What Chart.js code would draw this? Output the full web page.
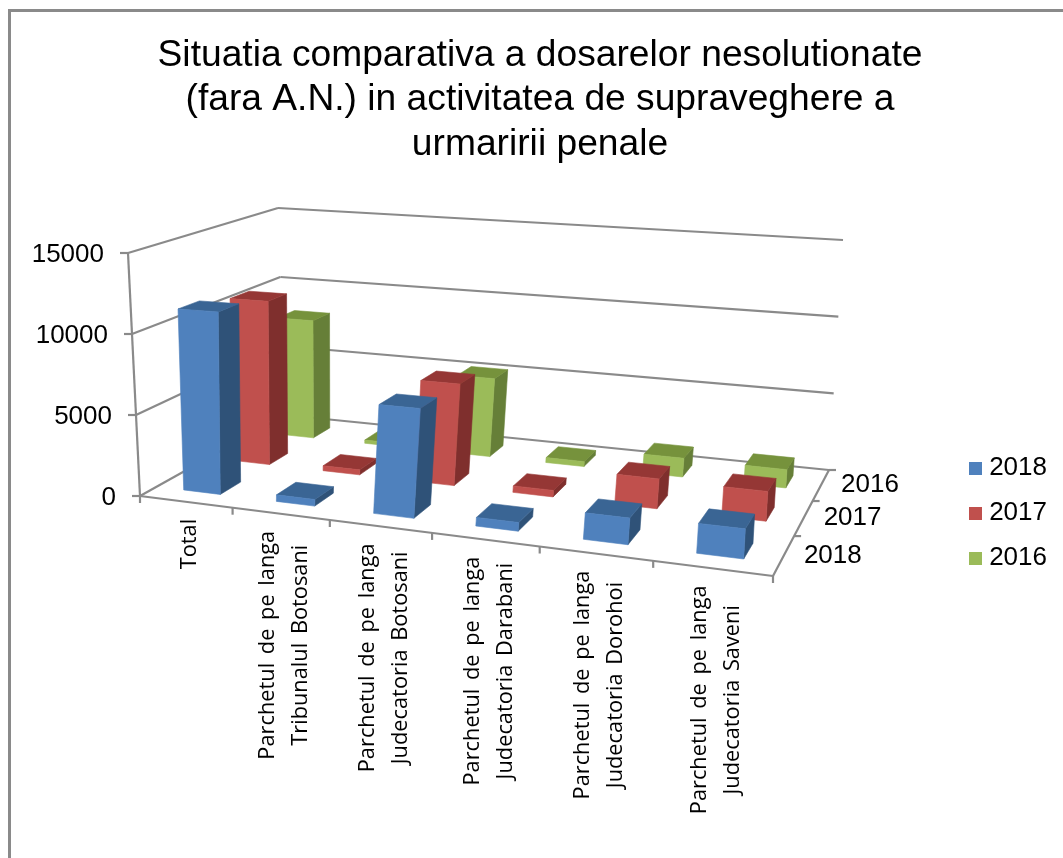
<!DOCTYPE html>
<html>
<head>
<meta charset="utf-8">
<script src="https://cdn.jsdelivr.net/npm/chart.js@4"></script>
<style>
html,body{margin:0;padding:0;background:#fff;overflow:hidden;width:1063px;height:858px}
#frame{position:absolute;left:8px;top:9px;width:1200px;height:1000px;border-left:3px solid #8a8a8a;border-top:3px solid #8a8a8a;box-sizing:border-box}
canvas{position:absolute;left:8px;top:10px}
</style>
</head>
<body>
<div id="frame"></div>
<canvas id="c" width="1064" height="848"></canvas>
<script>
const categories = ["Total",
  ["Parchetul de pe langa","Tribunalul Botosani"],
  ["Parchetul de pe langa","Judecatoria Botosani"],
  ["Parchetul de pe langa","Judecatoria Darabani"],
  ["Parchetul de pe langa","Judecatoria Dorohoi"],
  ["Parchetul de pe langa","Judecatoria Saveni"]];
const seriesNames = ["2018","2017","2016"];
const values2018 = [11300,400,6500,500,1500,1650];
const values2017 = [10700,320,6400,400,1800,1750];
const values2016 = [8100,220,5200,320,1200,1150];
const titleLines = ["Situatia comparativa a dosarelor nesolutionate","(fara A.N.) in activitatea de supraveghere a","urmaririi penale"];
const yTickStep = 5000, yMax = 15000;

const colors = [
  {front:"#4F81BD",side:"#2F5278",top:"#3A6594"},
  {front:"#C0504D",side:"#7F2F2D",top:"#953735"},
  {front:"#9BBB59",side:"#667F38",top:"#76923C"}
];
const axisColor = "#8a8a8a";
const ORG = {x:8,y:10};

// view projection of the 3D box (corner anchors, page pixels)
function homography(p0,p1,p2,p3){
  const sx=p0[0]-p1[0]+p2[0]-p3[0], sy=p0[1]-p1[1]+p2[1]-p3[1];
  const dx1=p1[0]-p2[0], dx2=p3[0]-p2[0], dy1=p1[1]-p2[1], dy2=p3[1]-p2[1];
  const den=dx1*dy2-dx2*dy1;
  const g=(sx*dy2-dx2*sy)/den, h=(dx1*sy-sx*dy1)/den;
  const a=p1[0]-p0[0]+g*p1[0], b=p3[0]-p0[0]+h*p3[0], c=p0[0];
  const d=p1[1]-p0[1]+g*p1[1], e=p3[1]-p0[1]+h*p3[1], f=p0[1];
  return (u,w)=>{const q=g*u+h*w+1;return [(a*u+b*w+c)/q,(d*u+e*w+f)/q];};
}
const floorH = homography([140,496],[773,576],[829,470],[285,415]);
const ceilH  = homography([128,253],[786,293],[843,240],[278,208]);
function project(u,d,v){
  const a=floorH(u,d), b=ceilH(u,d);
  return [a[0]+(b[0]-a[0])*v-ORG.x, a[1]+(b[1]-a[1])*v-ORG.y];
}

function poly(ctx,pts,fill){
  ctx.beginPath();
  pts.forEach((p,i)=>i?ctx.lineTo(p[0],p[1]):ctx.moveTo(p[0],p[1]));
  ctx.closePath();
  ctx.fillStyle=fill;ctx.strokeStyle=fill;ctx.lineWidth=0.6;
  ctx.fill();ctx.stroke();
}
function seg(ctx,a,b){ctx.beginPath();ctx.moveTo(a[0],a[1]);ctx.lineTo(b[0],b[1]);ctx.stroke();}

const box3d = {
  id:"box3d",
  beforeDatasetsDraw(chart){
    const ctx=chart.ctx, ys=chart.scales.y, area=chart.chartArea;
    ctx.save();
    ctx.strokeStyle=axisColor;ctx.lineWidth=2.2;
    ys.ticks.forEach(t=>{
      const v=(area.bottom-ys.getPixelForValue(t.value))/area.height;
      const fl=project(0,0,v), bl=project(0,1,v), br=project(1,1,v);
      seg(ctx,fl,bl);seg(ctx,bl,br);
      seg(ctx,[fl[0]-8,fl[1]],fl);
    });
    seg(ctx,project(0,0,0),project(0,0,1));
    seg(ctx,project(0,0,0),project(1,0,0));
    seg(ctx,project(1,0,0),project(1,1,0));
    categories.forEach((c,i)=>{
      const u=i/categories.length, p=project(u,0,0);
      seg(ctx,p,[p[0],p[1]+7]);
    });
    const last=project(1,0,0);seg(ctx,last,[last[0],last[1]+7]);
    seriesNames.forEach((s,i)=>{
      const p=project(1,(i+1)/seriesNames.length,0);
      seg(ctx,p,[p[0]+7,p[1]]);
    });
    ctx.restore();
  },
  beforeDatasetDraw(chart,args){
    const ctx=chart.ctx, area=chart.chartArea;
    const row=args.index, col=colors[row], n=seriesNames.length;
    const catW=area.width/categories.length;
    ctx.save();
    args.meta.data.forEach(el=>{
      const p=el.getProps(["x","y","base","width"],true);
      const frac=p.width/catW;
      const u0=(p.x-p.width/2-area.left)/area.width, u1=(p.x+p.width/2-area.left)/area.width;
      const d0=(row+(1-frac)/2)/n, d1=(row+(1+frac)/2)/n;
      const v=(p.base-p.y)/area.height;
      const a=project(u0,d0,0), b=project(u1,d0,0), c=project(u1,d0,v), e=project(u0,d0,v);
      const f=project(u1,d1,0), g=project(u1,d1,v), h=project(u0,d1,v);
      poly(ctx,[b,f,g,c],col.side);
      poly(ctx,[e,c,g,h],col.top);
      poly(ctx,[a,b,c,e],col.front);
    });
    ctx.restore();
    return false;
  },
  afterDatasetsDraw(chart){
    const ctx=chart.ctx, ys=chart.scales.y, area=chart.chartArea;
    ctx.save();
    ctx.fillStyle="#000";
    ctx.font='26px "Liberation Sans"';
    ctx.textBaseline="middle";ctx.textAlign="right";
    ys.ticks.forEach(t=>{
      const v=(area.bottom-ys.getPixelForValue(t.value))/area.height;
      const p=project(0,0,v);
      ctx.fillText(String(t.value),p[0]-24,p[1]+2);
    });
    ctx.textAlign="left";
    seriesNames.forEach((s,i)=>{
      const p=project(1,(i+0.5)/seriesNames.length,0);
      ctx.fillText(s,p[0]+20,p[1]);
    });
    ctx.font='21.8px "Open Sans"';
    ctx.wordSpacing='3px';
    ctx.textAlign="center";
    categories.forEach((c,i)=>{
      const lines=Array.isArray(c)?c:[c];
      const p=project((i+0.5)/categories.length,0,0);
      const half=Math.max(...lines.map(l=>ctx.measureText(l).width))/2;
      ctx.save();
      ctx.translate(p[0]+4,p[1]+17+half);
      ctx.rotate(-Math.PI/2);
      lines.forEach((l,k)=>ctx.fillText(l,0,(k-(lines.length-1)/2)*33));
      ctx.restore();
    });
    ctx.restore();
  }
};

function swatch(color){
  const s=document.createElement("canvas");s.width=13;s.height=13;
  const x=s.getContext("2d");x.fillStyle=color;x.fillRect(0,0,13,13);
  return s;
}

new Chart(document.getElementById("c"),{
  type:"bar",
  data:{
    labels:categories,
    datasets:[
      {label:seriesNames[0],data:values2018,backgroundColor:colors[0].front},
      {label:seriesNames[1],data:values2017,backgroundColor:colors[1].front},
      {label:seriesNames[2],data:values2016,backgroundColor:colors[2].front}
    ]
  },
  options:{
    responsive:false,animation:false,
    layout:{padding:{top:0,right:15,bottom:268,left:15}},
    datasets:{bar:{grouped:false,categoryPercentage:1,barPercentage:0.4}},
    scales:{
      x:{display:false},
      y:{display:false,min:0,max:yMax,ticks:{stepSize:yTickStep}}
    },
    plugins:{
      title:{display:true,text:titleLines,color:"#000",
        font:{family:'"Liberation Sans"',size:37.2,weight:"normal",lineHeight:1.2},
        padding:{top:23,bottom:10}},
      legend:{position:"right",align:"end",
        labels:{color:"#000",font:{family:'"Liberation Sans"',size:26},
          usePointStyle:true,pointStyleWidth:1,padding:19,
          generateLabels(chart){
            return chart.data.datasets.map((d,i)=>({text:d.label,datasetIndex:i,fillStyle:d.backgroundColor,
              strokeStyle:d.backgroundColor,lineWidth:0,pointStyle:swatch(d.backgroundColor)}));
          }}},
      tooltip:{enabled:false}
    }
  },
  plugins:[box3d]
});
</script>
</body>
</html>
